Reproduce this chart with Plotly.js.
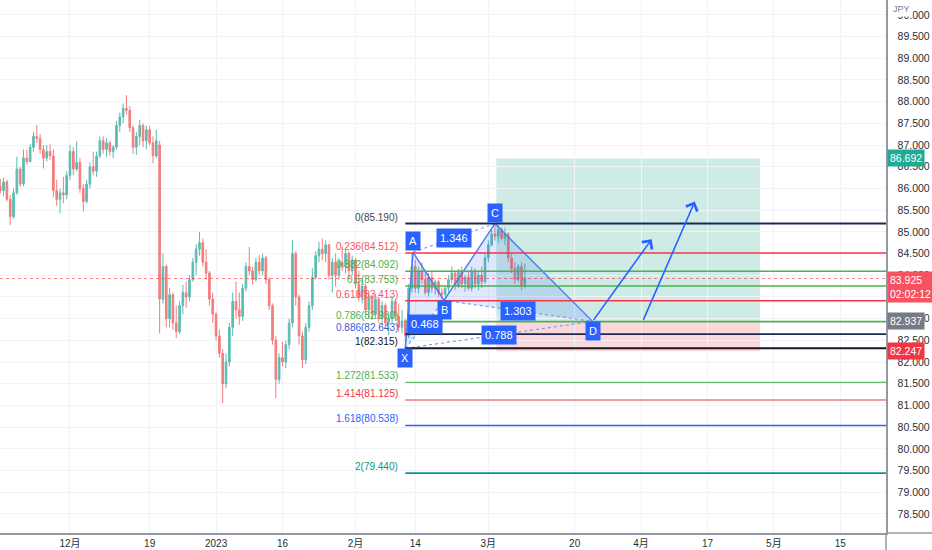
<!DOCTYPE html>
<html><head><meta charset="utf-8">
<script src="https://cdn.plot.ly/plotly-3.0.1.min.js"></script>
<style>html,body{margin:0;padding:0;background:#fff}#chart{width:932px;height:550px}</style>
</head><body><div id="chart"></div>
<script>
// ---- data ----
const firstBarDay = -10.5;   // trading-day index of first bar (0 = 1 Dec 2022)
const barStep = 0.5;
const opens = [86.05,85.95,86.15,85.75,85.35,85.9,86.45,86.1,86.7,86.62,86.95,87.2,87.15,86.9,86.7,86.85,86.75,85.95,85.75,85.9,
85.85,86.3,86.85,86.45,86.6,86.0,85.7,86.1,86.5,86.4,86.75,87.1,86.9,87.05,86.85,86.95,87.45,87.65,87.85,87.8,
87.4,86.95,87.2,87.45,87.1,87.35,87.05,86.75,87.0,83.45,84.2,83.0,83.55,82.9,82.7,83.3,83.6,83.5,83.9,84.3,
84.6,84.75,84.3,84.05,83.45,83.1,82.6,82.2,81.5,82.0,82.8,83.4,83.2,83.05,83.7,84.2,84.1,83.9,84.3,84.1,
84.4,83.9,83.3,82.5,81.6,82.1,82.0,82.4,82.9,84.5,83.5,82.6,82.05,82.8,83.3,83.95,84.45,84.6,84.5,84.7,
84.0,84.3,84.0,84.3,84.2,84.5,84.1,84.35,83.8,83.5,83.75,83.2,83.5,83.1,83.45,83.0,83.3,82.9,83.0,83.4,
83.05,82.8,82.95,82.6,83.7,84.2,83.7,84.1,83.9,83.6,83.95,83.7,83.85,83.6,83.55,83.7,83.9,84.05,83.75,84.1,
83.8,83.95,83.7,84.1,83.8,84.0,83.85,84.4,84.7,84.95,84.9,85.05,84.85,84.95,84.4,84.15,83.9,84.2,83.75];
const highs = [86.22,86.25,86.2,85.85,86.0,86.73,86.5,86.9,86.88,87.02,87.3,87.46,87.25,87.0,87.0,87.02,86.9,86.2,86.0,86.27,
86.4,87.0,86.95,87.08,86.7,86.1,86.2,86.6,86.85,86.85,87.2,87.2,87.15,87.1,87.0,87.55,87.75,87.96,88.15,87.9,
87.45,87.3,87.58,87.5,87.45,87.45,87.2,87.35,87.1,84.5,84.25,83.7,83.6,83.3,83.4,83.78,83.85,84.0,84.4,84.72,
85.0,84.85,84.6,84.1,83.6,83.15,82.75,82.3,82.2,82.9,83.6,83.85,83.6,83.8,84.3,84.65,84.2,84.4,84.47,84.5,
84.45,83.95,83.35,82.6,82.2,82.47,82.5,83.0,84.81,84.55,83.55,82.7,82.9,83.4,84.16,84.55,84.77,84.85,84.8,84.72,
84.4,84.5,84.4,84.66,84.6,84.55,84.45,84.4,84.1,83.9,83.8,83.6,83.55,83.58,83.5,83.4,83.35,83.1,83.51,83.45,
83.35,83.2,83.0,83.8,84.53,84.35,84.2,84.3,84.12,84.05,84.1,83.9,83.89,83.7,83.75,84.0,84.2,84.1,84.15,84.2,
84.0,84.1,84.2,84.15,84.1,84.2,84.5,84.81,85.05,85.19,85.16,85.1,85.1,85.0,84.5,84.3,84.25,84.3,84.27];
const lows = [85.88,85.82,85.7,85.16,85.3,85.85,86.04,86.05,86.55,86.6,86.85,87.05,86.8,86.46,86.62,86.66,85.8,85.6,85.43,85.66,
85.75,86.2,86.3,86.4,85.9,85.47,85.65,86.0,86.3,86.27,86.7,86.8,86.73,86.75,86.7,86.9,87.3,87.5,87.7,87.3,
86.8,86.77,87.0,86.95,86.9,87.0,86.58,86.7,82.66,83.35,82.8,82.8,82.75,82.55,82.65,83.1,83.25,83.4,83.85,84.0,
84.45,84.2,83.9,83.3,82.9,82.5,82.1,81.05,81.4,81.9,82.6,83.0,82.86,82.95,83.62,84.0,83.78,83.85,84.0,84.0,
83.8,83.2,82.4,81.17,81.5,81.9,81.86,82.3,82.8,83.3,82.4,81.86,81.95,82.7,83.2,83.9,84.3,84.35,84.3,83.9,
83.6,83.74,83.9,84.1,84.04,83.9,84.0,83.7,83.4,83.35,83.1,83.0,82.97,83.0,82.9,82.82,82.8,82.62,82.9,82.95,
82.7,82.66,82.315,82.55,83.6,83.6,83.58,83.8,83.55,83.51,83.6,83.55,83.5,83.45,83.42,83.6,83.8,83.66,83.7,83.7,
83.62,83.65,83.62,83.7,83.65,83.7,83.8,84.3,84.66,84.8,84.75,84.8,84.7,84.3,84.05,83.8,83.85,83.66,83.7];
const closes = [85.95,86.15,85.75,85.35,85.9,86.45,86.1,86.7,86.62,86.95,87.2,87.15,86.9,86.7,86.85,86.75,85.95,85.75,85.9,85.85,
86.3,86.85,86.45,86.6,86.0,85.7,86.1,86.5,86.4,86.75,87.1,86.9,87.05,86.85,86.95,87.45,87.65,87.85,87.8,87.4,
86.95,87.2,87.45,87.1,87.35,87.05,86.75,87.1,83.45,84.2,83.0,83.55,82.9,82.7,83.3,83.6,83.5,83.9,84.3,84.6,
84.75,84.3,84.05,83.45,83.1,82.6,82.2,81.5,82.0,82.8,83.4,83.2,83.05,83.7,84.2,84.1,83.9,84.3,84.1,84.4,
83.9,83.3,82.5,81.6,82.1,82.0,82.4,82.9,84.5,83.5,82.6,82.05,82.8,83.3,83.95,84.45,84.6,84.5,84.7,84.0,
84.3,84.0,84.3,84.2,84.5,84.1,84.35,83.8,83.5,83.75,83.2,83.5,83.1,83.45,83.0,83.3,82.9,83.0,83.4,83.05,
82.8,82.95,82.6,83.7,84.2,83.7,84.1,83.9,83.6,83.95,83.7,83.85,83.6,83.55,83.7,83.9,84.05,83.75,84.1,83.8,
83.95,83.7,84.1,83.8,84.0,83.85,84.4,84.7,84.95,84.9,85.05,84.85,84.95,84.4,84.15,83.9,84.2,83.75,83.925];

const tickDays = [0,12,22,32,43,52,63,76,86,96,106,116];
const tickLabels = ['12月','19','2023','16','2月','14','3月','20','4月','17','5月','15'];

const fibRatios = ['0','0.236','0.382','0.5','0.618','0.786','0.886','1','1.272','1.414','1.618','2'];
const fibPrices = [85.190,84.512,84.092,83.753,83.413,82.930,82.643,82.315,81.533,81.125,80.538,79.440];

const patternNames = ['X','A','B','C','D'];
const patternDays = [50.5,51.66,56.33,64.0,78.7];
const patternPrices = [82.315,84.53,83.42,85.19,82.937];
const ratioPairs = [[0,2],[1,3],[2,4],[0,4]];
const ratioLabels = ['0.468','1.346','1.303','0.788'];

const posDays = [64.2,103.9];
const posTarget = 86.692, posEntry = 82.937, posStop = 82.247;

const arrowTailDays = [78.7,86.25];
const arrowTailPrices = [82.937,82.937];
const arrowHeadDays = [87.6,94.1];
const arrowHeadPrices = [84.83,85.70];

const lastPrice = 83.925;
const countdown = '02:02:12';

// ---- styles ----
const fibLineColors = ['#1b2a4e','#f23645','#4caf50','#4caf50','#f23645','#4caf50','#1b2a4e','#131722','#66bb6a','#f23645','#2962ff','#089981'];
const fibLineWidths = [2,1.4,1.4,1.4,1.4,1.6,1.6,2,1.2,1.2,1.6,1.6];
const fibTextColors = ['#434651','#f7525f','#4caf50','#4caf50','#f7525f','#4caf50','#3d5bd9','#131722','#4caf50','#f23645','#2962ff','#089981'];
const blue = '#2962ff';
const FONT = 'Liberation Sans, Arial, Noto Sans CJK JP, sans-serif';

const barDays = opens.map((_, i) => firstBarDay + i * barStep);

const traces = [];
traces.push({
  type: 'candlestick', x: barDays, open: opens, high: highs, low: lows, close: closes,
  increasing: {line: {color: '#26a69a', width: 1}, fillcolor: '#26a69a'},
  decreasing: {line: {color: '#ef5350', width: 1}, fillcolor: '#ef5350'},
  whiskerwidth: 0, opacity: 0.75, hoverinfo: 'skip', showlegend: false
});
[[0,1,2],[2,3,4]].forEach(t => {
  traces.push({type:'scatter', mode:'lines', x: t.concat([t[0]]).map(k=>patternDays[k]),
    y: t.concat([t[0]]).map(k=>patternPrices[k]), fill:'toself', fillcolor:'rgba(41,98,255,0.15)',
    line:{width:0}, hoverinfo:'skip', showlegend:false});
});
traces.push({type:'scatter', mode:'lines', x: patternDays, y: patternPrices,
  line:{color:'#4a78f5', width:1.4}, hoverinfo:'skip', showlegend:false});
ratioPairs.forEach(p => {
  traces.push({type:'scatter', mode:'lines', x:[patternDays[p[0]],patternDays[p[1]]], y:[patternPrices[p[0]],patternPrices[p[1]]],
    line:{color:'#7b9cf5', width:1.2, dash:'dot'}, hoverinfo:'skip', showlegend:false});
});

const shapes = [];
shapes.push({type:'rect', xref:'x', yref:'y', x0:posDays[0], x1:posDays[1], y0:posEntry, y1:posTarget,
  fillcolor:'rgba(8,153,129,0.2)', line:{width:0}, layer:'below'});
shapes.push({type:'rect', xref:'x', yref:'y', x0:posDays[0], x1:posDays[1], y0:posStop, y1:posEntry,
  fillcolor:'rgba(242,54,69,0.2)', line:{width:0}, layer:'below'});
fibPrices.forEach((p, i) => {
  shapes.push({type:'line', xref:'x', yref:'y', x0:patternDays[0], x1:140, y0:p, y1:p,
    line:{color:fibLineColors[i], width:fibLineWidths[i]}});
});
shapes.push({type:'line', xref:'paper', yref:'y', x0:0, x1:1, y0:lastPrice, y1:lastPrice,
  line:{color:'rgba(242,54,69,0.6)', width:1, dash:'dot'}});
shapes.push({type:'line', xref:'paper', yref:'paper', x0:1, x1:1.06, y0:0, y1:0, line:{color:'#9598a1', width:1.5}});
shapes.push({type:'line', xref:'paper', yref:'paper', x0:1, x1:1, y0:0, y1:-0.04, line:{color:'#9598a1', width:1.5}});

const ann = [];
fibPrices.forEach((p, i) => {
  ann.push({xref:'x', yref:'y', x:patternDays[0], y:p, xanchor:'right', yanchor:'bottom', xshift:-5, yshift:-1,
    text: fibRatios[i] + '(' + p.toFixed(3) + ')', showarrow:false, font:{family:FONT, size:10, color:fibTextColors[i]}});
});
patternNames.forEach((n, i) => {
  const up = (n === 'A' || n === 'C');
  ann.push({xref:'x', yref:'y', x:patternDays[i], y:patternPrices[i], yshift: up ? 11 : -10, text:n, showarrow:false,
    bgcolor:blue, borderpad:3, font:{family:FONT, size:11, color:'#fff'}});
});
ratioPairs.forEach((p, i) => {
  ann.push({xref:'x', yref:'y', x:(patternDays[p[0]]+patternDays[p[1]])/2, y:(patternPrices[p[0]]+patternPrices[p[1]])/2,
    text:ratioLabels[i], showarrow:false, bgcolor:blue, borderpad:3, font:{family:FONT, size:11, color:'#fff'}});
});
arrowTailDays.forEach((d, i) => {
  ann.push({xref:'x', yref:'y', axref:'x', ayref:'y', x:arrowHeadDays[i], y:arrowHeadPrices[i], ax:d, ay:arrowTailPrices[i],
    text:'', showarrow:true, arrowhead:4, arrowsize:1.5, arrowwidth:1.6, arrowcolor:blue});
});
function priceTag(price, text, bg, yanchor, yshift) {
  ann.push({xref:'paper', yref:'y', x:1, y:price, xanchor:'left', yanchor:yanchor||'middle', yshift:yshift||0, xshift:1,
    text:text, showarrow:false, bgcolor:bg, borderpad:2, align:'left', font:{family:FONT, size:10.5, color:'#fff'}});
}
priceTag(posTarget, posTarget.toFixed(3), '#22ab94');
priceTag(lastPrice, lastPrice.toFixed(3) + '<br>' + countdown, '#f7525f', 'top', 8);
priceTag(posEntry, posEntry.toFixed(3), '#787b86');
priceTag(posStop, posStop.toFixed(3), '#f23645');
ann.push({xref:'paper', yref:'paper', x:1, y:1, xanchor:'left', yanchor:'top', xshift:4, yshift:-1, text:'JPY',
  showarrow:false, bgcolor:'#ffffff', borderpad:2, font:{family:FONT, size:9, color:'#787b86'}});

const layout = {
  width:932, height:550, margin:{l:0, r:46, t:0, b:17}, paper_bgcolor:'#fff', plot_bgcolor:'#fff',
  showlegend:false, hovermode:false, dragmode:false,
  xaxis:{type:'linear', range:[-10.54,122.89], tickvals:tickDays, ticktext:tickLabels, showgrid:true, gridcolor:'#f0f3fa',
    zeroline:false, showline:true, linecolor:'#9598a1', linewidth:1.5, ticks:'', rangeslider:{visible:false},
    tickfont:{family:FONT, size:10, color:'#2a2e39'}, automargin:false, fixedrange:true},
  yaxis:{side:'right', range:[78.06,90.343], dtick:0.5, tick0:0, tickformat:'.3f', showgrid:true, gridcolor:'#f0f3fa',
    zeroline:false, showline:true, linecolor:'#9598a1', linewidth:1.5, ticks:'', ticklabelstandoff:8,
    tickfont:{family:FONT, size:10.5, color:'#2a2e39'}, automargin:false, fixedrange:true},
  shapes:shapes, annotations:ann
};
Plotly.newPlot('chart', traces, layout, {staticPlot:true, displayModeBar:false});
</script></body></html>
